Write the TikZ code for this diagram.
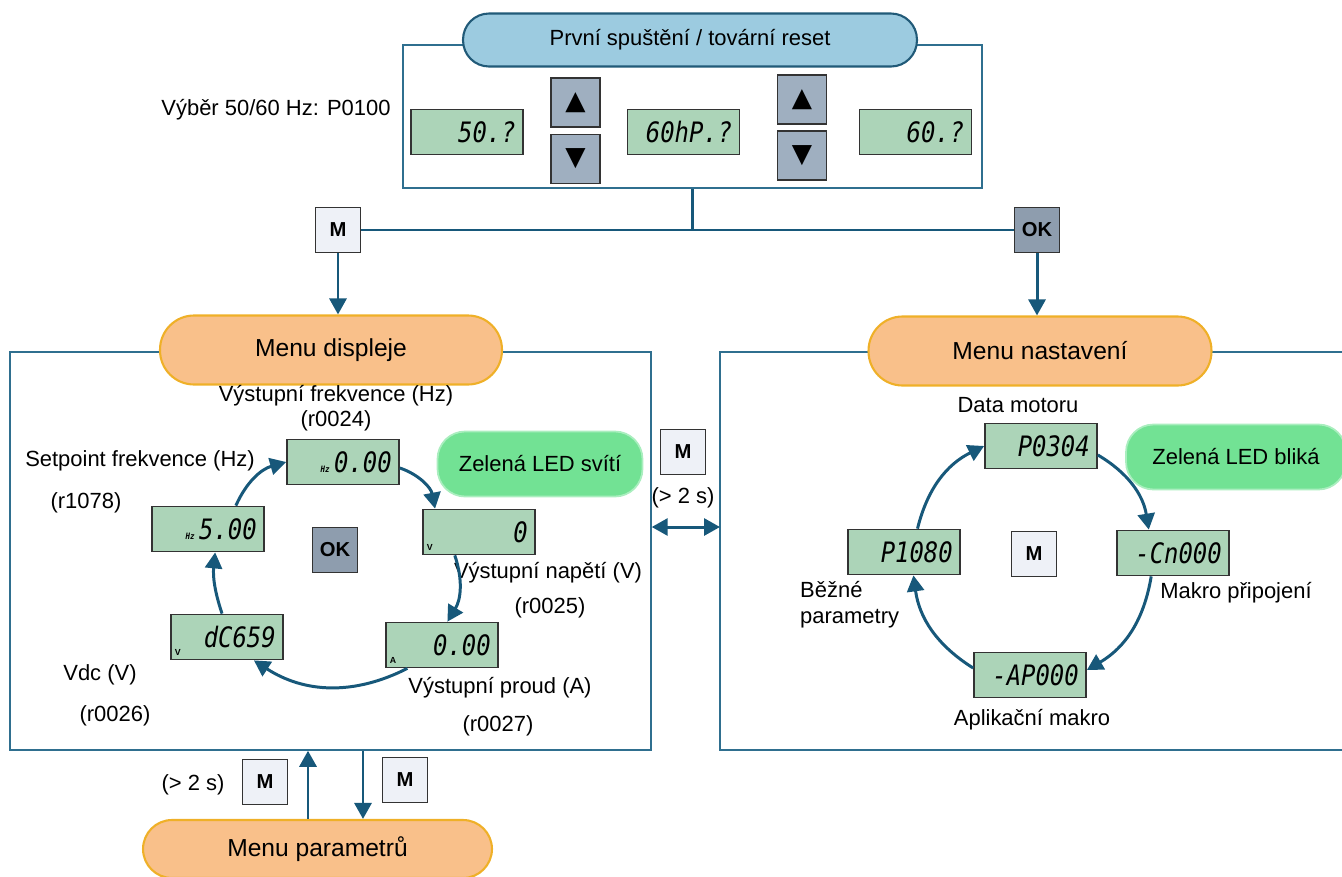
\documentclass[tikz,border=0pt]{standalone}
\usepackage{fontspec}
\setmainfont{Liberation Sans}
\newfontfamily\lcdfont[FakeStretch=0.85]{DejaVu Sans Mono}
\newfontfamily\symfont{DejaVu Sans}
\usetikzlibrary{arrows.meta}
\definecolor{lcdgreen}{HTML}{ACD4B8}
\definecolor{ledgreen}{HTML}{72E294}
\definecolor{pillblue}{HTML}{9CCBE0}
\definecolor{pillblueline}{HTML}{215A78}
\definecolor{pillorange}{HTML}{F9C08A}
\definecolor{pillorangeline}{HTML}{EFB028}
\definecolor{flowblue}{HTML}{17587A}
\definecolor{frameblue}{HTML}{2F6F8F}
\definecolor{keywhite}{HTML}{EEF1F7}
\definecolor{keygray}{HTML}{8E9DAE}
\definecolor{btngray}{HTML}{9FAFC0}
\newcommand\unitfont{\fontsize{5}{5}\selectfont\bfseries}

\begin{document}
\begin{tikzpicture}[
  x=0.02cm, y=-0.02cm,
  font=\fontsize{12.5}{15}\selectfont,
  >={Triangle[length=0.32cm, width=0.34cm]},
  lcd/.style={
    draw=black!80, line width=1pt, fill=lcdgreen,
    minimum width=2.24cm, minimum height=0.9cm, inner sep=0pt,
    text width=1.95cm, align=right,
    font=\lcdfont\itshape\fontsize{16}{16}\selectfont
  },
  unit/.style={anchor=south west, inner sep=2.5pt, font=\unitfont},
  key/.style={
    draw=black!80, line width=1pt, minimum size=0.9cm, inner sep=0pt,
    font=\fontsize{11.5}{12}\selectfont\bfseries
  },
  mkey/.style={key, fill=keywhite},
  okkey/.style={key, fill=keygray},
  arrbtn/.style={
    draw=black!80, line width=1pt, fill=btngray, minimum size=0.98cm,
    inner sep=0pt, font=\symfont\fontsize{15}{15}\selectfont
  },
  bluepill/.style={
    draw=pillblueline, line width=1.2pt, fill=pillblue,
    rounded corners=0.52cm, minimum width=9.08cm, minimum height=1.06cm
  },
  menupill/.style={
    draw=pillorangeline, line width=1.2pt, fill=pillorange,
    rounded corners=0.68cm, minimum height=1.38cm,
    font=\fontsize{14}{16}\selectfont
  },
  ledpill/.style={
    draw=ledgreen!60, line width=1pt, fill=ledgreen,
    rounded corners=0.55cm, minimum height=1.3cm
  },
  frame/.style={draw=frameblue, line width=0.9pt},
  flow/.style={draw=flowblue, line width=1.7pt}
]
  \useasboundingbox (0,0) rectangle (1342,876);

  % first start
  \node[frame, minimum width=11.58cm, minimum height=2.86cm] (topbox) at (692.5,116.5) {};
  \node[bluepill] (first) at (690,40) {První spuštění / tovární reset};
  \node (sel) at (276,110) {Výběr 50/60 Hz: P0100};
  \node[lcd] (l50) at (467,132) {50.?};
  \node[lcd] (l60hp) at (683.5,132) {60hP.?};
  \node[lcd] (l60) at (915.5,132) {60.?};
  \node[arrbtn] (up1) at (575.5,102.5) {▲};
  \node[arrbtn] (dn1) at (575.5,159) {▼};
  \node[arrbtn] (up2) at (802,99.5) {▲};
  \node[arrbtn] (dn2) at (802,155.5) {▼};

  \node[mkey] (mtop) at (338,230) {M};
  \node[okkey] (oktop) at (1037,230) {OK};
  \draw[flow] (topbox.south) -- (topbox.south |- mtop.east);
  \draw[flow] (mtop.east) -- (oktop.west);

  % display menu
  \node[frame, minimum width=12.82cm, minimum height=7.96cm] (dispbox) at (330.5,551) {};
  \node[menupill, minimum width=6.84cm] (dispmenu) at (331,350) {Menu displeje};
  \draw[flow, ->] (mtop.south) -- (mtop.south |- dispmenu.north);

  \node (t24) at (336,396) {Výstupní frekvence (Hz)};
  \node (r24) at (336,421) {(r0024)};
  \node (t78) at (140,461) {Setpoint frekvence (Hz)};
  \node (r78) at (86,503) {(r1078)};
  \node (t25) at (548,573) {Výstupní napětí (V)};
  \node (r25) at (550,608) {(r0025)};
  \node (t27) at (500,688) {Výstupní proud (A)};
  \node (r27) at (498,726) {(r0027)};
  \node (t26) at (100,675) {Vdc (V)};
  \node (r26) at (115,716) {(r0026)};
  \node[ledpill, minimum width=4.1cm] (ledon) at (540,464) {Zelená LED svítí};

  \node[lcd] (dfreq) at (343,462) {{\unitfont Hz}\,0.00};
  \node[lcd] (dset) at (208,529) {{\unitfont Hz}\,5.00};
  \node[lcd, label={[unit]south west:V}] (dvolt) at (479,532) {0};
  \node[lcd, label={[unit]south west:A}] (dcur) at (442,645) {0.00};
  \node[lcd, label={[unit]south west:V}] (dvdc) at (227,637) {dC659};
  \node[okkey] (okdisp) at (335,550) {OK};

  \draw[flow, ->] (dfreq.-6) to[bend left=30] (dvolt.152);
  \draw[flow, ->] (dvolt.224) to[bend left=25] (dcur.77);
  \draw[flow, ->] (dcur.214) to[bend left=30] (dvdc.-41);
  \draw[flow, ->] (dvdc.102) to[bend left=12] (dset.-73);
  \draw[flow, ->] (dset.40) to[bend left=25] (dfreq.west);

  % setting menu
  \draw[frame] (1345,352) -- (720,352) -- (720,750) -- (1345,750);
  \coordinate (setwest) at (720,527);
  \node[menupill, minimum width=6.86cm] (setmenu) at (1040,351) {Menu nastavení};
  \draw[flow, ->] (oktop.south) -- (oktop.south |- setmenu.north);

  \node[mkey] (mswitch) at (683,452) {M};
  \node (tswitch) at (683,498) {(> 2 s)};
  \draw[flow, <->] (dispbox.east |- setwest) -- (setwest);

  \node (tmot) at (1018,405) {Data motoru};
  \node (tcon) at (1236,593) {Makro připojení};
  \node (tapp) at (1032,720) {Aplikační makro};
  \node[align=left, anchor=west] (tpar) at (794,605) {Běžné\\parametry};
  \node[ledpill, minimum width=4.4cm] (ledblink) at (1236,457) {Zelená LED bliká};

  \node[lcd] (smot) at (1041,446) {\mbox{P0304}};
  \node[lcd] (scon) at (1173,553) {\mbox{-Cn000}};
  \node[lcd] (sapp) at (1030,675) {\mbox{-AP000}};
  \node[lcd] (spar) at (904,552) {\mbox{P1080}};
  \node[mkey] (mset) at (1034,554) {M};

  \draw[flow, ->] (smot.-9) to[bend left=25] (scon.136);
  \draw[flow, ->] (scon.227) to[bend left=25] (sapp.5);
  \draw[flow, ->] (sapp.173) to[bend left=25] (spar.-68);
  \draw[flow, ->] (spar.60) to[bend left=25] (smot.west);

  % parameter menu
  \node[menupill, minimum width=6.98cm, minimum height=1.16cm, rounded corners=0.58cm] (parmenu) at (317.5,849) {Menu parametrů};
  \coordinate (pup) at ([xshift=-0.19cm]parmenu.north);
  \coordinate (pdown) at ([xshift=0.91cm]parmenu.north);
  \draw[flow, ->] (pup) -- (pup |- dispbox.south);
  \draw[flow, ->] (pdown |- dispbox.south) -- (pdown);
  \node[mkey] (mlong) at (265,782) {M};
  \node (tlong) at (193,785) {(> 2 s)};
  \node[mkey] (mshort) at (405,780) {M};
\end{tikzpicture}
\end{document}
